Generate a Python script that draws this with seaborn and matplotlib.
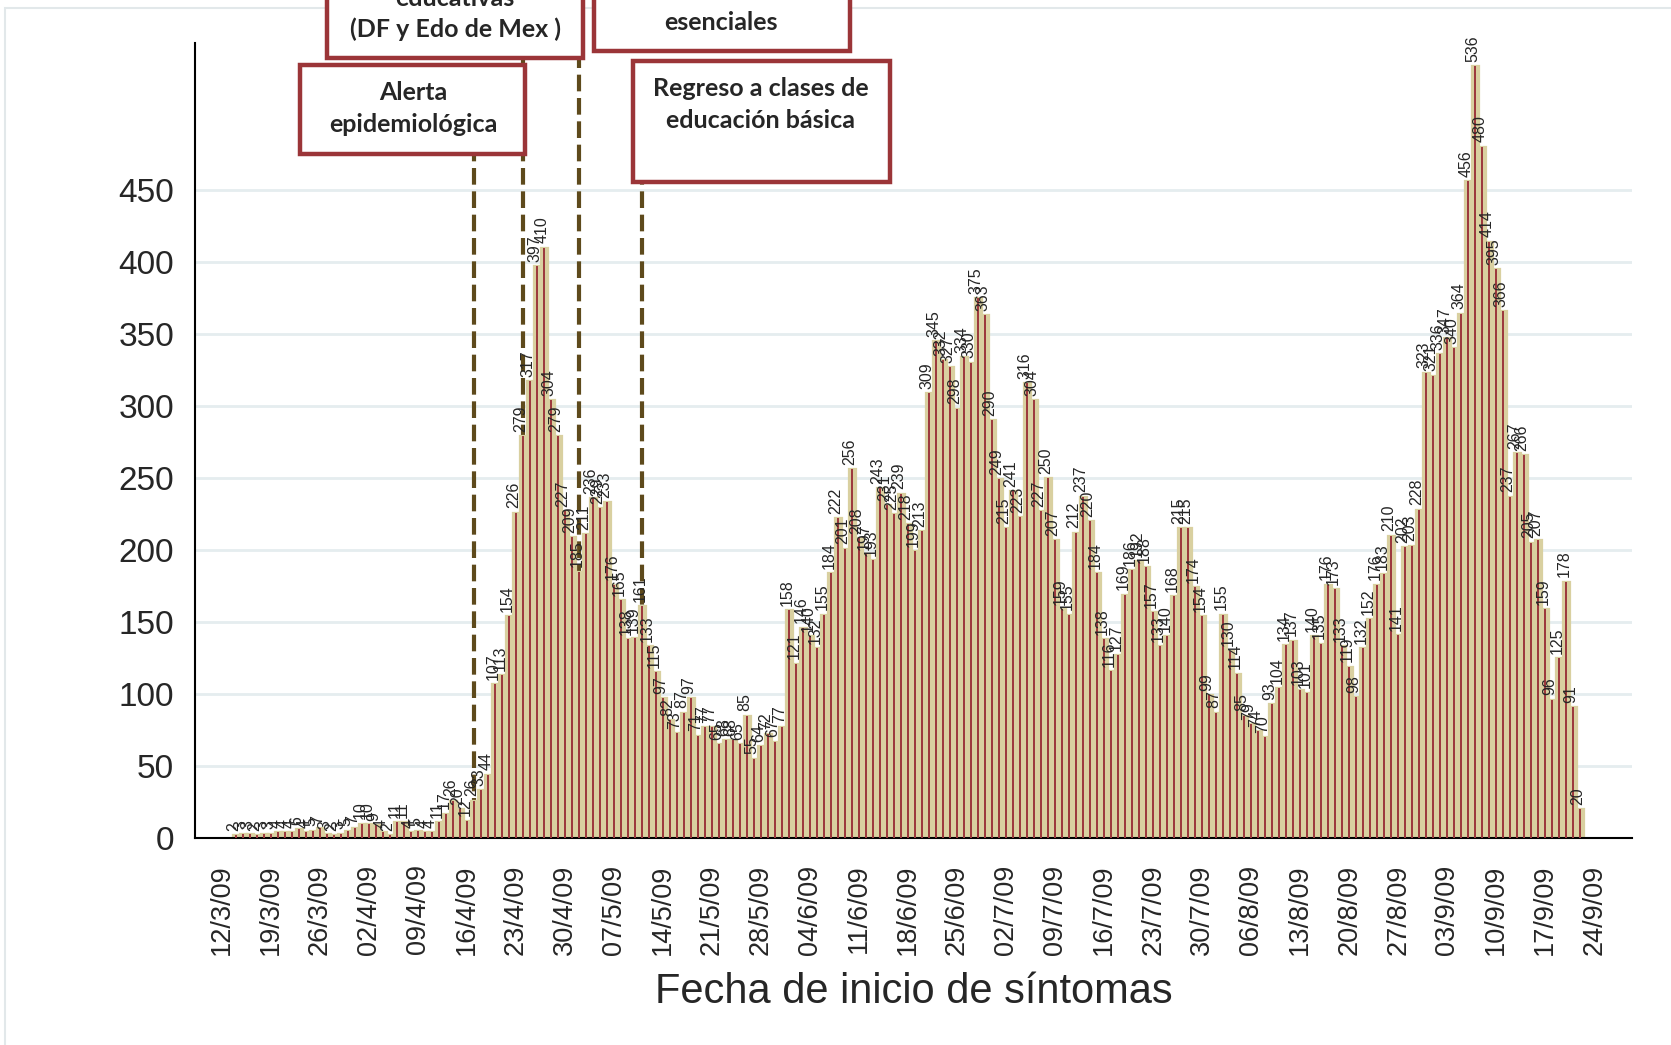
import pandas as pd
import seaborn as sns
import matplotlib.pyplot as plt
from matplotlib.patches import Rectangle

# casos diarios por fecha de inicio de sintomas, desde el 14/3/09
inicio = '2009-03-14'
origen = '2009-03-12'
casos = [
    2, 3, 3, 2, 3, 3, 4, 4, 4, 6, 4, 5, 7, 3, 2, 3, 5, 7, 10, 10,
    9, 4, 2, 11, 11, 4, 5, 4, 4, 11,
    17, 26, 20, 12, 26, 33, 44, 107, 113, 154,
    226, 279, 317, 397, 410, 304, 279, 227, 209, 185,
    211, 236, 229, 233, 176, 165, 138, 139, 161, 133,
    115, 97, 82, 73, 87, 97, 71, 77, 77, 65,
    68, 68, 65, 85, 55, 64, 72, 67, 77, 158,
    121, 146, 140, 132, 155, 184, 222, 201, 256, 208,
    197, 193, 243, 231, 225, 239, 218, 199, 213, 309,
    345, 332, 327, 298, 334, 330, 375, 363, 290, 249,
    215, 241, 223, 316, 304, 227, 250, 207, 159, 155,
    212, 237, 220, 184, 138, 116, 127, 169, 186, 192,
    188, 157, 133, 140, 168, 215, 215, 174, 154, 99,
    87, 155, 130, 114, 85, 79, 74, 70, 93, 104,
    134, 137, 103, 101, 140, 135, 176, 173, 133, 119,
    98, 132, 152, 176, 183, 210, 141, 202, 203, 228,
    323, 321, 336, 347, 340, 364, 456, 536, 480, 414,
    395, 366, 237, 267, 266, 205, 207, 159, 96, 125,
    178, 91, 20,
]
etiquetas_x = ['12/3/09', '19/3/09', '26/3/09', '02/4/09', '09/4/09', '16/4/09',
               '23/4/09', '30/4/09', '07/5/09', '14/5/09', '21/5/09', '28/5/09',
               '04/6/09', '11/6/09', '18/6/09', '25/6/09', '02/7/09', '09/7/09',
               '16/7/09', '23/7/09', '30/7/09', '06/8/09', '13/8/09', '20/8/09',
               '27/8/09', '03/9/09', '10/9/09', '17/9/09', '24/9/09']
eventos = ['2009-04-17', '2009-04-24', '2009-05-02', '2009-05-11']
eventos_tope = [474, 540, 540, 454]

fechas = pd.date_range(inicio, periods=len(casos), freq='D')
df = pd.DataFrame({'dia': (fechas - pd.Timestamp(origen)).days, 'casos': casos})
dias_eventos = [(pd.Timestamp(e) - pd.Timestamp(origen)).days for e in eventos]

sns.set_style('white')
plt.rcParams['font.family'] = ['Liberation Sans', 'DejaVu Sans']

W, H = 1671, 1045
fig = plt.figure(figsize=(W / 100, H / 100), dpi=100)
ax = fig.add_axes([195 / W, 1 - 838 / H, (1632 - 195) / W, (838 - 43) / H])

tan = '#d9d0a0'
rojo = '#9d3a3e'

for d, top in zip(dias_eventos, eventos_tope):
    ax.plot([d, d], [0, top], color='#5e4a1c', lw=3, dashes=(4, 1.6), zorder=1)

sns.barplot(data=df, x='dia', y='casos', native_scale=True, width=1.0, color=tan,
            edgecolor=tan, linewidth=1.6, saturation=1, errorbar=None, ax=ax, zorder=2)
sns.barplot(data=df, x='dia', y='casos', native_scale=True, width=0.34, color=rojo,
            linewidth=0, saturation=1, errorbar=None, ax=ax, zorder=3)

for d, v in zip(df['dia'], df['casos']):
    ax.text(d - 0.3, v + 3, str(v), rotation=90, ha='center', va='bottom',
            fontsize=11.5, zorder=4)

ax.set_xlim(-3.86, 201.4)
ax.set_ylim(0, 552)
ax.set_yticks(range(0, 451, 50))
ax.set_xticks(range(0, 197, 7))
ax.set_xticklabels(etiquetas_x, rotation=90)
ax.tick_params(axis='y', labelsize=24, length=9, width=1.3, pad=6)
ax.tick_params(axis='x', labelsize=19.5, length=13, width=1.3, pad=6)
ax.yaxis.grid(True, color='#e5edef', lw=2)
ax.set_axisbelow(True)
sns.despine(ax=ax)
for s in ['left', 'bottom']:
    ax.spines[s].set_color('black')
    ax.spines[s].set_linewidth(1.5)
ax.set_xlabel('Fecha de inicio de síntomas', fontsize=30, labelpad=12)
ax.set_ylabel('')

# marco exterior
fig.add_artist(Rectangle((5 / W, -0.01), 1.0, 1 - 8 / H + 0.01, transform=fig.transFigure,
                         fill=False, edgecolor='#e2e8ea', lw=1.5))

# cuadros de anotacion
cuadros = [(300, 65, 525, 154), (327, -40, 583, 58), (594, -40, 850, 51), (633, 61, 890, 182)]
for x0, y0, x1, y1 in cuadros:
    fig.add_artist(Rectangle((x0 / W, 1 - y1 / H), (x1 - x0) / W, (y1 - y0) / H,
                             transform=fig.transFigure, facecolor='white',
                             edgecolor='#9b3538', lw=3.2, zorder=5))

textos = [(413, 92, 'Alerta'), (413, 124, 'epidemiológica'), (455, -2, 'educativas'),
          (455, 29, '(DF y Edo de Mex )'), (721, 23, 'esenciales'),
          (761, 89, 'Regreso a clases de'), (761, 121, 'educación básica')]
for x, y, t in textos:
    fig.text(x / W, 1 - y / H, t, ha='center', va='center', fontsize=18,
             fontweight='bold', family=['Lato', 'DejaVu Sans'], zorder=6)

fig.savefig('out.png', dpi=100)
